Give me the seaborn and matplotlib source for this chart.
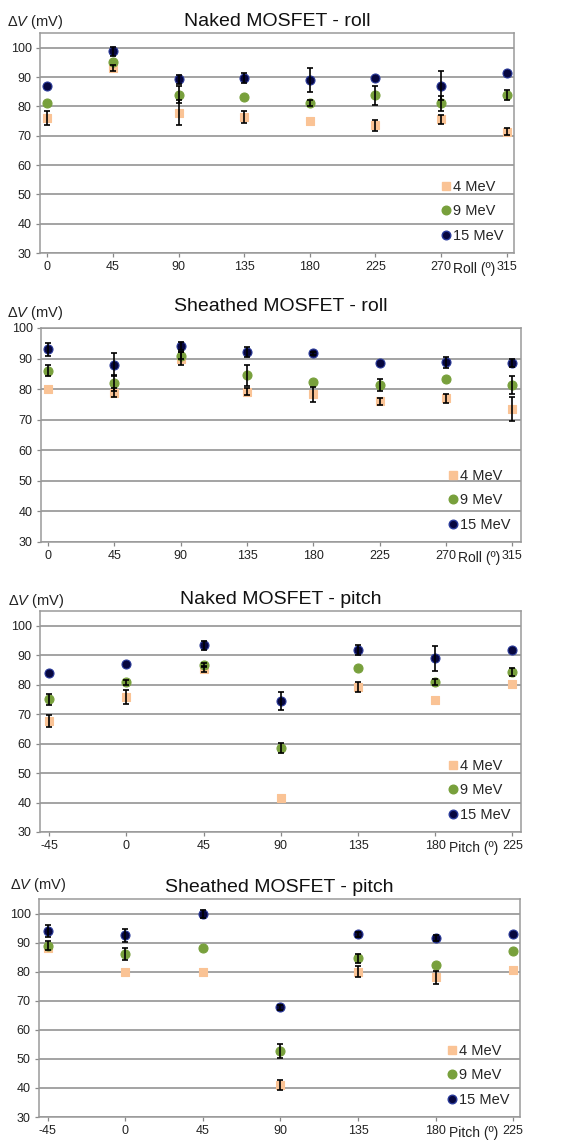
import numpy as np
import pandas as pd
import matplotlib
matplotlib.use("Agg")
import matplotlib.pyplot as plt
import seaborn as sns
from matplotlib.lines import Line2D

sns.set_theme(style="white")
plt.rcParams['font.family'] = ['Liberation Sans', 'DejaVu Sans']
plt.rcParams['mathtext.fontset'] = 'custom'
plt.rcParams['mathtext.it'] = 'Liberation Sans:italic'
plt.rcParams['mathtext.rm'] = 'Liberation Sans'

# ---------------- data ----------------
roll_x = [0, 45, 90, 135, 180, 225, 270, 315]
pitch_x = [-45, 0, 45, 90, 135, 180, 225]
energies = ["4 MeV", "9 MeV", "15 MeV"]

naked_roll_4 = [76.0, 93.0, 77.8, 76.3, 75.0, 73.5, 75.6, 71.3]
naked_roll_4_err = [2.3, 1.0, 4.3, 2.0, 0.0, 2.0, 1.5, 1.2]
naked_roll_9 = [81.0, 95.0, 84.0, 83.2, 81.0, 83.7, 81.0, 84.0]
naked_roll_9_err = [0.0, 0.0, 2.8, 0.0, 1.0, 3.4, 2.5, 1.7]
naked_roll_15 = [86.8, 98.8, 89.2, 89.6, 89.0, 89.7, 87.1, 91.4]
naked_roll_15_err = [0.0, 1.5, 1.5, 1.7, 4.2, 0.0, 4.8, 0.0]

sheath_roll_4 = [80.0, 78.8, 90.0, 79.2, 78.3, 76.0, 77.0, 73.5]
sheath_roll_4_err = [0.0, 1.5, 2.0, 1.2, 2.5, 1.2, 1.5, 3.8]
sheath_roll_9 = [86.0, 82.0, 91.0, 84.5, 82.2, 81.4, 83.3, 81.4]
sheath_roll_9_err = [1.8, 2.5, 1.0, 3.5, 0.0, 2.0, 0.0, 3.0]
sheath_roll_15 = [93.0, 88.0, 94.2, 92.1, 91.7, 88.6, 88.8, 88.5]
sheath_roll_15_err = [2.0, 3.8, 1.3, 1.7, 0.5, 0.0, 1.8, 1.2]

naked_pitch_4 = [67.8, 75.9, 85.2, 41.5, 79.2, 74.7, 80.2]
naked_pitch_4_err = [2.0, 2.3, 1.0, 0.0, 1.8, 0.0, 0.0]
naked_pitch_9 = [75.0, 80.8, 86.7, 58.5, 85.6, 80.8, 84.3]
naked_pitch_9_err = [1.8, 0.8, 0.8, 1.6, 0.0, 1.0, 1.2]
naked_pitch_15 = [84.0, 86.9, 93.3, 74.4, 91.7, 89.0, 91.8]
naked_pitch_15_err = [0.0, 0.0, 1.5, 3.0, 1.8, 4.2, 0.0]

sheath_pitch_4 = [88.3, 80.0, 80.0, 41.0, 80.0, 78.0, 80.6]
sheath_pitch_4_err = [0.0, 0.0, 0.0, 1.8, 2.0, 2.3, 0.0]
sheath_pitch_9 = [89.0, 86.0, 88.0, 52.7, 84.6, 82.2, 87.0]
sheath_pitch_9_err = [1.5, 2.0, 0.0, 2.5, 1.5, 0.0, 0.0]
sheath_pitch_15 = [94.0, 92.5, 99.8, 67.7, 92.8, 91.5, 92.8]
sheath_pitch_15_err = [2.0, 2.2, 1.5, 1.0, 1.0, 1.0, 0.0]

y_ticks = [30, 40, 50, 60, 70, 80, 90, 100]

panels = [
    dict(title="Naked MOSFET - roll", x=roll_x, xlab="Roll (º)",
         ys=[naked_roll_4, naked_roll_9, naked_roll_15],
         es=[naked_roll_4_err, naked_roll_9_err, naked_roll_15_err],
         box=(40, 33, 514, 253), ylim=(30, 105), xlim=(-5, 320),
         ylab=(7, 22), xlabpos=(474, 269), titlepad=5),
    dict(title="Sheathed MOSFET - roll", x=roll_x, xlab="Roll (º)",
         ys=[sheath_roll_4, sheath_roll_9, sheath_roll_15],
         es=[sheath_roll_4_err, sheath_roll_9_err, sheath_roll_15_err],
         box=(41, 328, 521, 542), ylim=(30, 100), xlim=(-4.8, 321),
         ylab=(7, 313), xlabpos=(479, 558), titlepad=12),
    dict(title="Naked MOSFET - pitch", x=pitch_x, xlab="Pitch (º)",
         ys=[naked_pitch_4, naked_pitch_9, naked_pitch_15],
         es=[naked_pitch_4_err, naked_pitch_9_err, naked_pitch_15_err],
         box=(40, 611, 521, 832), ylim=(30, 105), xlim=(-50.3, 230),
         ylab=(8, 601), xlabpos=(474, 848), titlepad=5),
    dict(title="Sheathed MOSFET - pitch", x=pitch_x, xlab="Pitch (º)",
         ys=[sheath_pitch_4, sheath_pitch_9, sheath_pitch_15],
         es=[sheath_pitch_4_err, sheath_pitch_9_err, sheath_pitch_15_err],
         box=(39, 899, 520, 1117), ylim=(30, 105), xlim=(-50, 229),
         ylab=(10, 885), xlabpos=(474, 1133), titlepad=5),
]

colors = {"4 MeV": "#fac395", "9 MeV": "#78a03c", "15 MeV": "#07073f"}
edges = {"4 MeV": "#fac395", "9 MeV": "#78a03c", "15 MeV": "#2a3a9a"}
markers = {"4 MeV": "s", "9 MeV": "o", "15 MeV": "o"}
sizes = {"4 MeV": 30, "9 MeV": 42, "15 MeV": 42}

W, H = 586, 1142
fig = plt.figure(figsize=(W / 100, H / 100), dpi=100)
fig.patch.set_facecolor("white")

def rect(l, t, r, b):
    return [l / W, 1 - b / H, (r - l) / W, (b - t) / H]

for p in panels:
    ax = fig.add_axes(rect(*p["box"]))
    rows = []
    for e, yv, ev in zip(energies, p["ys"], p["es"]):
        for xv, yy, ee in zip(p["x"], yv, ev):
            rows.append(dict(angle=xv, dv=yy, err=ee, energy=e))
    df = pd.DataFrame(rows)

    for yt in y_ticks:
        ax.axhline(yt, color="#8a8a8a", lw=1.1, zorder=1)

    for e in energies:
        sub = df[df.energy == e]
        sns.scatterplot(data=sub, x="angle", y="dv", ax=ax, marker=markers[e],
                        s=sizes[e], color=colors[e], edgecolor=edges[e],
                        linewidth=0.8, zorder=3, legend=False)
    for e in energies:
        sub = df[(df.energy == e) & (df.err > 0)]
        ax.errorbar(sub.angle, sub.dv, yerr=sub.err, fmt="none", ecolor="black",
                    elinewidth=1.2, capsize=2.4, capthick=1.2, zorder=4)

    ax.set_xlim(*p["xlim"])
    ax.set_ylim(*p["ylim"])
    ax.set_xticks(p["x"])
    ax.set_xticklabels([str(v) for v in p["x"]])
    ax.set_yticks(y_ticks)
    ax.set_xlabel("")
    ax.set_ylabel("")
    ax.tick_params(axis="both", labelsize=9, colors="#222222", length=3,
                   width=0.9, direction="out", pad=3, left=True, bottom=True)
    ax.tick_params(axis="both", color="#888888")
    for s in ["left", "bottom", "top", "right"]:
        ax.spines[s].set_color("#9a9a9a")
        ax.spines[s].set_linewidth(1.1)
        ax.spines[s].set_visible(True)

    ax.set_title(p["title"], fontsize=14, color="#111111", pad=p["titlepad"])
    fig.text(p["ylab"][0] / W, 1 - p["ylab"][1] / H, r"$\mathit{\Delta V}$ (mV)",
             fontsize=10.5, color="#222222", ha="left", va="center")
    fig.text(p["xlabpos"][0] / W, 1 - p["xlabpos"][1] / H, p["xlab"],
             fontsize=10, color="#222222", ha="center", va="center")

    handles = [Line2D([], [], ls="none", marker=markers[e], markersize=6.2 if e != "4 MeV" else 5.6,
                      markerfacecolor=colors[e], markeredgecolor=edges[e], label=e)
               for e in energies]
    leg = ax.legend(handles=handles, loc="lower right", frameon=False,
                    fontsize=10.5,
                    handlelength=0.5, handletextpad=0.25, labelspacing=0.72,
                    borderaxespad=0.3, bbox_to_anchor=(1.0, 0.0))

fig.savefig("out.png", dpi=100, facecolor="white")
